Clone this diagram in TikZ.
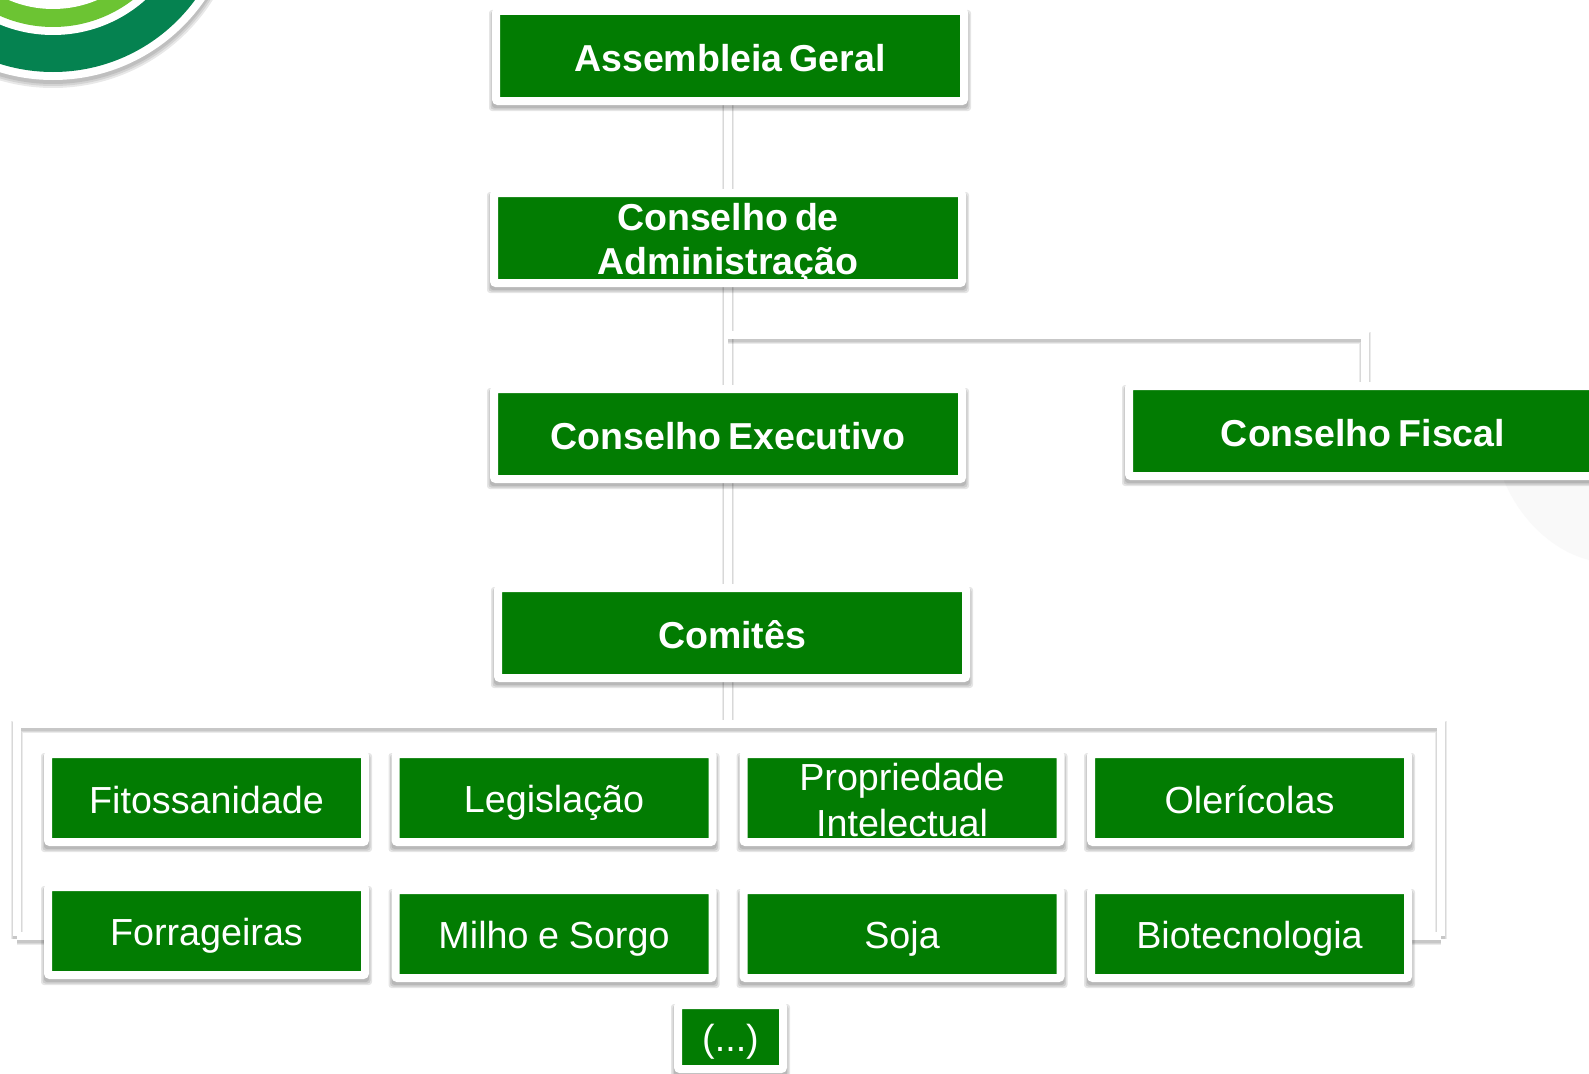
\documentclass[tikz,border=0pt]{standalone}
\usepackage{fontspec}
\setmainfont{Liberation Sans}
\usetikzlibrary{calc,backgrounds}
\definecolor{boxgreen}{HTML}{027C02}
\definecolor{ringdark}{HTML}{058250}
\definecolor{ringlight}{HTML}{6CC433}
\definecolor{ghost}{HTML}{F9F9F9}
\pgfdeclarelayer{wires}\pgfdeclarelayer{boxshade}\pgfdeclarelayer{paper}
\pgfsetlayers{paper,wires,boxshade,main}
\newcommand{\labelstrut}{\rule[-5.5pt]{0pt}{42pt}}
\tikzset{
  x=1pt,y=-1pt,
  box/.style={fill=boxgreen,draw=white,line width=8pt,rounded corners=2pt,inner sep=0pt,outer sep=0pt,
    text=white,align=center,text width=#1,minimum width=#1+16pt,
    execute at end node=\labelstrut},
  big/.style={box=452pt,minimum height=90pt,font=\fontsize{37.5}{44}\selectfont\bfseries,
    execute at begin node={\spaceskip=7pt\relax\labelstrut}},
  small/.style={box=301pt,minimum height=88pt,font=\fontsize{37.7}{44}\selectfont,
    execute at begin node={\spaceskip=9.7pt\relax\labelstrut}},
  tiny/.style={box=89pt,minimum height=64pt,font=\fontsize{37.7}{44}\selectfont,
    execute at begin node=\labelstrut},
  wire/.style={draw=white,line width=8pt,line cap=butt,line join=miter},
  wireshade/.style={draw=black,opacity=.08,line cap=butt,line join=miter},
}
\newcommand{\wirepath}[1]{%
  \begin{scope}[transform canvas={yshift=-3pt}]
  \foreach \k in {0,2,4}{\draw[wireshade,line width=8pt+\k pt] #1;}
  \end{scope}
  \draw[wire] #1;}
\newcommand{\boxshade}[1]{%
  \foreach \k in {0,1.5,3}{\fill[black,opacity=.1,rounded corners=3pt]
    ($(#1.north west)+(-4-\k,2-\k)$) rectangle ($(#1.south east)+(4+\k,7+\k)$);}}
\begin{document}
\begin{tikzpicture}
\useasboundingbox (0,0) rectangle (1589,1073);
\begin{pgfonlayer}{paper}
\fill[white] (0,0) rectangle (1589,1073);
% pale watermark at the right edge
\fill[ghost] (1500,470) .. controls (1515,515) and (1550,550) .. (1589,560) -- (1589,470) -- cycle;
% corner logo
\begin{scope}
\clip (0,0) rectangle (300,120);
\foreach \k in {1,3,5}{\fill[black,opacity=.09] (53,-101) circle[radius=184+\k];}
\fill[white] (53,-104) circle[radius=184];
\fill[ringdark] (53,-104) circle[radius=176];
\fill[white] (53,-104) circle[radius=139];
\fill[ringlight] (53,-104) circle[radius=131];
\fill[white] (53,-104) circle[radius=113];
\end{scope}
\end{pgfonlayer}
% boxes
\node[big] (asm) at (730,56) {Assembleia Geral};
\node[big] (adm) at (728,238) {Conselho de\\Administração};
\node[big] (exe) at (728,434) {Conselho Executivo};
\node[big] (fis) at (1363,431) {Conselho Fiscal};
\node[big] (com) at (732,633) {Comitês};
\node[small] (fit) at (206.5,798) {Fitossanidade};
\node[small] (leg) at (554,798) {Legislação};
\node[small] (pro) at (902,798) {Propriedade\\Intelectual};
\node[small] (ole) at (1249.5,798) {Olerícolas};
\node[small] (for) at (206.5,931) {Forrageiras};
\node[small] (mil) at (554,934) {Milho e Sorgo};
\node[small] (soj) at (902,934) {Soja};
\node[small] (bio) at (1249.5,934) {Biotecnologia};
\node[tiny] (etc) at (730.5,1037) {(...)};
% named junctions
\coordinate (j1) at (adm.south |- 0,335);
\coordinate (f1) at (1365,335);
\coordinate (j2) at (adm.south |- 0,724);
\coordinate (hl) at (17,724);
\coordinate (hr) at (1441,724);
\coordinate (fl) at (17,936);
\coordinate (fr) at (1441,936);
\begin{pgfonlayer}{wires}
\wirepath{(adm.north |- asm.south) -- (adm.north)}
\wirepath{(adm.south) -- (exe.north)}
\wirepath{(j1) -- (f1) -- (f1 |- fis.north)}
\wirepath{(exe.south) -- (exe.south |- com.north)}
\wirepath{(com.south -| j2) -- (j2)}
\wirepath{(fl) -- (hl) -- (hr) -- (fr)}
\wirepath{(fl) -- (fl -| for.west)}
\wirepath{(fr) -- (fr -| bio.east)}
\end{pgfonlayer}
\begin{pgfonlayer}{boxshade}
\foreach \n in {asm,adm,exe,fis,com,fit,leg,pro,ole,for,mil,soj,bio,etc}{\boxshade{\n}}
\end{pgfonlayer}
\end{tikzpicture}
\end{document}
